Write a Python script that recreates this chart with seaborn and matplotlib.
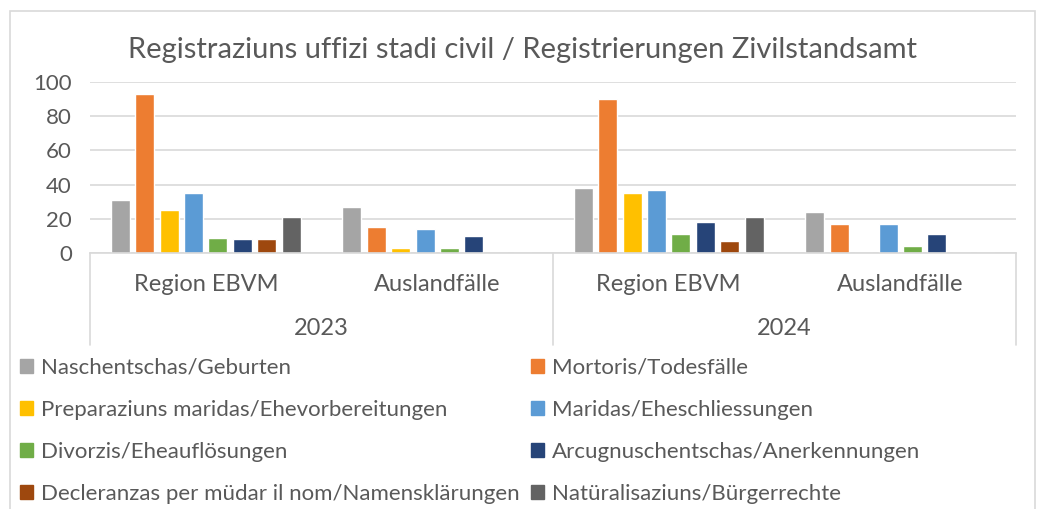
import matplotlib
matplotlib.use("Agg")
import matplotlib.pyplot as plt
import matplotlib.patches as mpatches
import matplotlib.transforms as mtransforms
import seaborn as sns
import pandas as pd

# data
years = ["2023", "2023", "2024", "2024"]
groups = ["Region EBVM", "Auslandfälle", "Region EBVM", "Auslandfälle"]
series = [
    "Naschentschas/Geburten",
    "Mortoris/Todesfälle",
    "Preparaziuns maridas/Ehevorbereitungen",
    "Maridas/Eheschliessungen",
    "Divorzis/Eheauflösungen",
    "Arcugnuschentschas/Anerkennungen",
    "Decleranzas per müdar il nom/Namensklärungen",
    "Natüralisaziuns/Bürgerrechte",
]
geburten = [31, 27, 38, 24]
todesfaelle = [93, 15, 90, 17]
ehevorbereitungen = [25, 3, 35, 0]
eheschliessungen = [35, 14, 37, 17]
eheaufloesungen = [9, 3, 11, 4]
anerkennungen = [8, 10, 18, 11]
namensklaerungen = [8, 0, 7, 0]
buergerrechte = [21, 0, 21, 0]
colors = ["#A5A5A5", "#ED7D31", "#FFC000", "#5B9BD5",
          "#70AD47", "#264478", "#9E480E", "#636363"]

values = [geburten, todesfaelle, ehevorbereitungen, eheschliessungen,
          eheaufloesungen, anerkennungen, namensklaerungen, buergerrechte]
cats = [f"{g}\n{y}" for g, y in zip(groups, years)]
rows = []
for s, vals in zip(series, values):
    for c, v in zip(cats, vals):
        rows.append({"cat": c, "series": s, "value": v})
df = pd.DataFrame(rows)

sns.set_style("white")
plt.rcParams["font.family"] = ["Lato", "DejaVu Sans"]
text_color = "#595959"
grid_color = "#D9D9D9"

W, H = 1037, 509
fig = plt.figure(figsize=(W / 100, H / 100), dpi=100)

def fx(px):
    return px / W

def fy(py):
    return 1 - py / H

# outer chart border
fig.patches.append(mpatches.Rectangle((fx(10), fy(530)), fx(1025), (530 - 11) / H,
                                      transform=fig.transFigure, fill=False,
                                      edgecolor=grid_color, linewidth=1.2))

ax = fig.add_axes([fx(90), fy(253), fx(1016 - 90), (253 - 82) / H])
sns.barplot(data=df, x="cat", y="value", hue="series", palette=colors,
            width=0.843, gap=0.22, legend=False, ax=ax, saturation=1)

ax.set_ylim(0, 100)
ax.set_xlim(-0.5, 3.5)
ax.set_yticks(range(0, 101, 20))
ax.yaxis.grid(True, color=grid_color, linewidth=1.2)
ax.set_axisbelow(True)
for sp in ["top", "right", "left"]:
    ax.spines[sp].set_visible(False)
ax.spines["bottom"].set_color(grid_color)
ax.spines["bottom"].set_linewidth(1.2)
ax.set_xlabel("")
ax.set_ylabel("")
ax.tick_params(axis="y", length=0, pad=13, labelsize=16, labelcolor=text_color)
ax.set_xticks(range(4))
ax.set_xticklabels(groups)
ax.tick_params(axis="x", length=0, pad=15, labelsize=17, labelcolor=text_color)

# year labels and separators
trans = mtransforms.blended_transform_factory(ax.transData, ax.transAxes)
px_to_ax = 1 / (253 - 82)
for i, yr in enumerate(["2023", "2024"]):
    ax.text(2 * i + 0.5, -(329 - 253) * px_to_ax, yr, transform=trans,
            ha="center", va="center", fontsize=17, color=text_color)
for xs in [-0.5, 1.5, 3.5]:
    ax.plot([xs, xs], [0, -(345 - 253) * px_to_ax], transform=trans,
            color=grid_color, linewidth=1.2, clip_on=False)

fig.text(fx(522), fy(50), "Registraziuns uffizi stadi civil / Registrierungen Zivilstandsamt",
         ha="center", va="center", fontsize=21, color=text_color)

# legend in two columns, row-major order like the original
handles = [mpatches.Patch(color=c, label=s) for c, s in zip(colors, series)]
for col, x0 in enumerate([20, 531]):
    leg = fig.legend(handles=handles[col::2], loc="upper left",
                     bbox_to_anchor=(fx(x0), fy(358)), frameon=False,
                     fontsize=16, labelcolor=text_color, handlelength=0.6,
                     handleheight=0.6, handletextpad=0.35, labelspacing=0.99,
                     borderaxespad=0, borderpad=0)

fig.savefig("out.png", dpi=100)
